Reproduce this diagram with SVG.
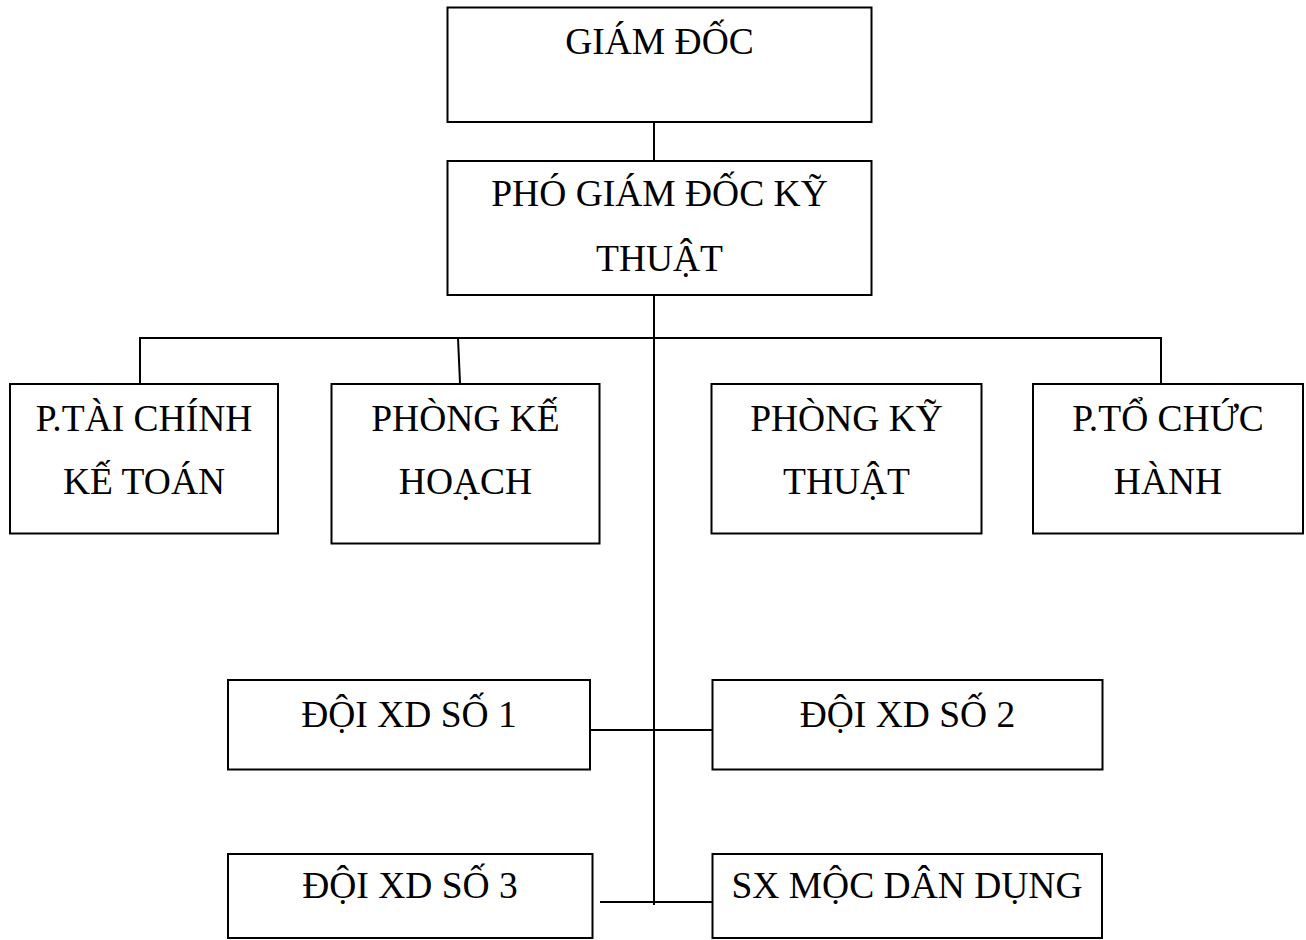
<svg xmlns="http://www.w3.org/2000/svg" width="1306" height="940" viewBox="0 0 1306 940">
<style>
rect{fill:#fff;stroke:#000;stroke-width:2}
line{stroke:#000;stroke-width:2}
text{font-family:"Liberation Serif","Times New Roman",serif;font-size:37.5px;fill:#000;text-anchor:middle}
</style>
<rect x="0" y="0" width="1306" height="940" style="stroke:none"/>
<g id="connectors">
<line x1="654" y1="122" x2="654" y2="161"/>
<line x1="654" y1="295" x2="654" y2="905"/>
<line x1="139" y1="338" x2="1162" y2="338"/>
<line x1="140" y1="338" x2="140" y2="383"/>
<line x1="458" y1="338" x2="460" y2="383"/>
<line x1="1161" y1="338" x2="1161" y2="383"/>
<line x1="590" y1="730" x2="712" y2="730"/>
<line x1="600" y1="902" x2="712" y2="902"/>
</g>
<g id="giam-doc"><rect x="447.5" y="7.5" width="424" height="114.5"/><text x="659.5" y="54">GIÁM ĐỐC</text></g>
<g id="pho-giam-doc"><rect x="447.5" y="161" width="424" height="134"/><text x="659.5" y="206">PHÓ GIÁM ĐỐC KỸ</text><text x="659.5" y="271">THUẬT</text></g>
<g id="tai-chinh"><rect x="10" y="384" width="268" height="149.5"/><text x="144" y="431">P.TÀI CHÍNH</text><text x="144" y="494">KẾ TOÁN</text></g>
<g id="ke-hoach"><rect x="331.5" y="384" width="268" height="159.5"/><text x="465.5" y="431">PHÒNG KẾ</text><text x="465.5" y="494">HOẠCH</text></g>
<g id="ky-thuat"><rect x="711.5" y="384" width="270" height="149.5"/><text x="846.5" y="431">PHÒNG KỸ</text><text x="846.5" y="494">THUẬT</text></g>
<g id="to-chuc"><rect x="1033" y="384" width="270" height="149.5"/><text x="1168" y="431">P.TỔ CHỨC</text><text x="1168" y="494">HÀNH</text></g>
<g id="doi-1"><rect x="228" y="680" width="362" height="89.5"/><text x="409" y="727">ĐỘI XD SỐ 1</text></g>
<g id="doi-2"><rect x="712.5" y="680" width="390" height="89.5"/><text x="907.5" y="727">ĐỘI XD SỐ 2</text></g>
<g id="doi-3"><rect x="228" y="854" width="364.5" height="84"/><text x="410" y="898">ĐỘI XD SỐ 3</text></g>
<g id="sx-moc"><rect x="712.5" y="854" width="389.5" height="84"/><text x="907" y="898">SX MỘC DÂN DỤNG</text></g>
</svg>
